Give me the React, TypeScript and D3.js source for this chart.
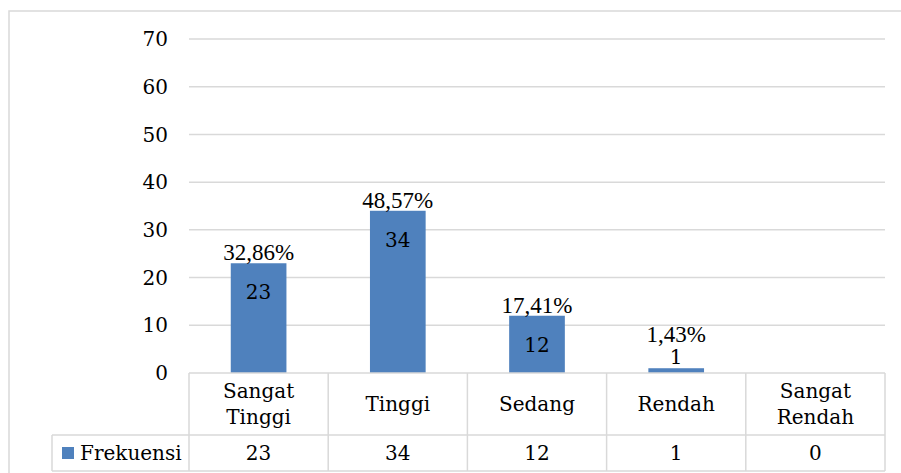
import { useEffect, useRef } from "react";
import * as d3 from "d3";

// Frequency chart with a data table under the axis (Excel style)
const categories = ["Sangat Tinggi", "Tinggi", "Sedang", "Rendah", "Sangat Rendah"];
const frekuensi = [23, 34, 12, 1, 0];
const percentLabels = ["32,86%", "48,57%", "17,41%", "1,43%", ""];
const yTicks = [0, 10, 20, 30, 40, 50, 60, 70];
const seriesName = "Frekuensi";

const W = 901;
const H = 473;
const BLUE = "#4f81bd";
const GRID = "#d9d9d9";
const SERIF = "'DejaVu Serif', serif";
const TIMES = "'Liberation Serif', 'Times New Roman', serif";

export default function App() {
  const svgRef = useRef<SVGSVGElement | null>(null);

  useEffect(() => {
    const svg = d3.select(svgRef.current);
    svg.selectAll("*").remove();

    const plotLeft = 189;
    const plotRight = 885;
    const legendLeft = 52;

    const x = d3.scaleBand<string>().domain(categories).range([plotLeft, plotRight]).padding(0);
    const y = d3.scaleLinear().domain([0, 70]).range([373, 39]);
    const barW = x.bandwidth() * 0.4;

    const catRowBottom = 435;
    const tableBottom = 471;

    // outer chart frame
    svg.append("rect")
      .attr("x", 9).attr("y", 11)
      .attr("width", W).attr("height", H)
      .attr("fill", "white")
      .attr("stroke", GRID).attr("stroke-width", 1.5);

    // gridlines
    svg.append("g")
      .selectAll("line")
      .data(yTicks.filter(t => t > 0))
      .join("line")
      .attr("x1", plotLeft).attr("x2", plotRight)
      .attr("y1", d => y(d)).attr("y2", d => y(d))
      .attr("stroke", GRID).attr("stroke-width", 1.5);

    // tick labels
    svg.append("g")
      .selectAll("text")
      .data(yTicks)
      .join("text")
      .attr("x", 168)
      .attr("y", d => y(d))
      .attr("dy", "0.36em")
      .attr("text-anchor", "end")
      .attr("font-family", SERIF)
      .attr("font-size", 20)
      .attr("fill", "#000")
      .text(d => d);

    // bars
    svg.append("g")
      .selectAll("rect")
      .data(frekuensi)
      .join("rect")
      .attr("x", (_, i) => x(categories[i])! + (x.bandwidth() - barW) / 2)
      .attr("y", d => y(d))
      .attr("width", barW)
      .attr("height", d => y(0) - y(d))
      .attr("fill", BLUE);

    // labels: value inside the bar end, percentage above it
    const lab = svg.append("g");
    frekuensi.forEach((v, i) => {
      if (v === 0) return;
      const cx = x(categories[i])! + x.bandwidth() / 2;
      const top = y(v);
      const inside = y(0) - top > 40;
      const valY = inside ? top + 36 : top - 4;
      const pctY = inside ? top - 3 : top - 26;
      lab.append("text")
        .attr("x", cx).attr("y", valY)
        .attr("text-anchor", "middle")
        .attr("font-family", SERIF).attr("font-size", 20)
        .text(v);
      lab.append("text")
        .attr("x", cx).attr("y", pctY)
        .attr("text-anchor", "middle")
        .attr("font-family", TIMES).attr("font-size", 23)
        .text(percentLabels[i]);
    });

    // data table
    const tbl = svg.append("g").attr("stroke", GRID).attr("stroke-width", 1.5);
    tbl.append("line").attr("x1", plotLeft).attr("x2", plotRight).attr("y1", y(0)).attr("y2", y(0));
    tbl.append("line").attr("x1", legendLeft).attr("x2", plotRight).attr("y1", catRowBottom).attr("y2", catRowBottom);
    tbl.append("line").attr("x1", legendLeft).attr("x2", plotRight).attr("y1", tableBottom).attr("y2", tableBottom);
    tbl.append("line").attr("x1", legendLeft).attr("x2", legendLeft).attr("y1", catRowBottom).attr("y2", tableBottom);
    const edges = categories.map(c => x(c)!).concat([plotRight]);
    tbl.selectAll("line.v")
      .data(edges)
      .join("line")
      .attr("class", "v")
      .attr("x1", d => d).attr("x2", d => d)
      .attr("y1", y(0)).attr("y2", tableBottom);

    // category labels (wrap two-word names)
    const catMid = (y(0) + catRowBottom) / 2;
    categories.forEach(c => {
      const words = c.split(" ");
      const cx = x(c)! + x.bandwidth() / 2;
      const t = svg.append("text")
        .attr("text-anchor", "middle")
        .attr("font-family", SERIF).attr("font-size", 20);
      const lh = 26;
      words.forEach((w, j) => {
        t.append("tspan")
          .attr("x", cx)
          .attr("y", catMid + (j - (words.length - 1) / 2) * lh)
          .attr("dy", "0.36em")
          .text(w);
      });
    });

    // series row
    const rowMid = (catRowBottom + tableBottom) / 2;
    svg.append("rect")
      .attr("x", 62).attr("y", rowMid - 6)
      .attr("width", 12).attr("height", 12)
      .attr("fill", BLUE);
    svg.append("text")
      .attr("x", 80).attr("y", rowMid).attr("dy", "0.36em")
      .attr("font-family", SERIF).attr("font-size", 20)
      .text(seriesName);
    svg.append("g")
      .selectAll("text")
      .data(frekuensi)
      .join("text")
      .attr("x", (_, i) => x(categories[i])! + x.bandwidth() / 2)
      .attr("y", rowMid).attr("dy", "0.36em")
      .attr("text-anchor", "middle")
      .attr("font-family", SERIF).attr("font-size", 20)
      .text(d => d);
  }, []);

  return (
    <svg
      ref={svgRef}
      width={W}
      height={H}
      style={{ position: "absolute", left: 0, top: 0, background: "white" }}
    />
  );
}
